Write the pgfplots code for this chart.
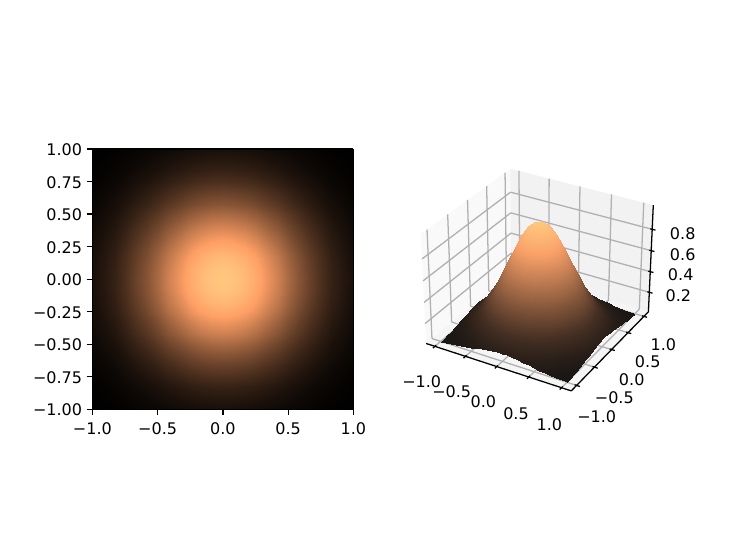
\documentclass[border=0pt]{standalone}
\usepackage{fontspec}
\setmainfont{DejaVu Sans}
\usepackage{pgfplots}
\usepackage{pgfplotstable}
\pgfplotsset{compat=1.18}
\definecolor{gridc}{rgb}{.69,.69,.69}
\definecolor{paneL}{rgb}{.975,.975,.975}
\definecolor{paneB}{rgb}{.95,.95,.95}
\definecolor{paneF}{rgb}{.9625,.9625,.9625}
\pgfplotsset{colormap={mplcopper}{rgb(0cm)=(0,0,0); rgb(4cm)=(1,.625,.398); rgb(5cm)=(1,.7812,.4975)}}
% copper with the light seams of the fine surface mesh mixed in
\pgfplotsset{colormap={meshcopper}{rgb(0cm)=(.10,.085,.075); rgb(1cm)=(.28,.19,.14); rgb(4cm)=(.98,.63,.41); rgb(5cm)=(1,.7812,.4975)}}
\pgfplotstableread{
x y z
-1 1 0.007
-0.92 1 0.010
-0.83 1 0.014
-0.75 1 0.020
-0.67 1 0.027
-0.58 1 0.035
-0.5 1 0.044
-0.42 1 0.053
-0.33 1 0.062
-0.25 1 0.070
-0.17 1 0.077
-0.08 1 0.081
0 1 0.082
0.08 1 0.081
0.17 1 0.077
0.25 1 0.070
0.33 1 0.062
0.42 1 0.053
0.5 1 0.044
0.58 1 0.035
0.67 1 0.027
0.75 1 0.020
0.83 1 0.014
0.92 1 0.010
1 1 0.007
-1 0.92 0.010
-0.92 0.92 0.015
-0.83 0.92 0.022
-0.75 0.92 0.030
-0.67 0.92 0.040
-0.58 0.92 0.052
-0.5 0.92 0.066
-0.42 0.92 0.079
-0.33 0.92 0.093
-0.25 0.92 0.105
-0.17 0.92 0.114
-0.08 0.92 0.120
0 0.92 0.122
0.08 0.92 0.120
0.17 0.92 0.114
0.25 0.92 0.105
0.33 0.92 0.093
0.42 0.92 0.079
0.5 0.92 0.066
0.58 0.92 0.052
0.67 0.92 0.040
0.75 0.92 0.030
0.83 0.92 0.022
0.92 0.92 0.015
1 0.92 0.010
-1 0.83 0.014
-0.92 0.83 0.022
-0.83 0.83 0.031
-0.75 0.83 0.043
-0.67 0.83 0.058
-0.58 0.83 0.075
-0.5 0.83 0.094
-0.42 0.83 0.114
-0.33 0.83 0.133
-0.25 0.83 0.151
-0.17 0.83 0.164
-0.08 0.83 0.173
0 0.83 0.176
0.08 0.83 0.173
0.17 0.83 0.164
0.25 0.83 0.151
0.33 0.83 0.133
0.42 0.83 0.114
0.5 0.83 0.094
0.58 0.83 0.075
0.67 0.83 0.058
0.75 0.83 0.043
0.83 0.83 0.031
0.92 0.83 0.022
1 0.83 0.014
-1 0.75 0.020
-0.92 0.75 0.030
-0.83 0.75 0.043
-0.75 0.75 0.060
-0.67 0.75 0.081
-0.58 0.75 0.105
-0.5 0.75 0.131
-0.42 0.75 0.159
-0.33 0.75 0.186
-0.25 0.75 0.210
-0.17 0.75 0.229
-0.08 0.75 0.241
0 0.75 0.245
0.08 0.75 0.241
0.17 0.75 0.229
0.25 0.75 0.210
0.33 0.75 0.186
0.42 0.75 0.159
0.5 0.75 0.131
0.58 0.75 0.105
0.67 0.75 0.081
0.75 0.75 0.060
0.83 0.75 0.043
0.92 0.75 0.030
1 0.75 0.020
-1 0.67 0.027
-0.92 0.67 0.040
-0.83 0.67 0.058
-0.75 0.67 0.081
-0.67 0.67 0.108
-0.58 0.67 0.141
-0.5 0.67 0.176
-0.42 0.67 0.213
-0.33 0.67 0.249
-0.25 0.67 0.282
-0.17 0.67 0.307
-0.08 0.67 0.324
0 0.67 0.329
0.08 0.67 0.324
0.17 0.67 0.307
0.25 0.67 0.282
0.33 0.67 0.249
0.42 0.67 0.213
0.5 0.67 0.176
0.58 0.67 0.141
0.67 0.67 0.108
0.75 0.67 0.081
0.83 0.67 0.058
0.92 0.67 0.040
1 0.67 0.027
-1 0.58 0.035
-0.92 0.58 0.052
-0.83 0.58 0.075
-0.75 0.58 0.105
-0.67 0.58 0.141
-0.58 0.58 0.182
-0.5 0.58 0.229
-0.42 0.58 0.277
-0.33 0.58 0.324
-0.25 0.58 0.365
-0.17 0.58 0.398
-0.08 0.58 0.420
0 0.58 0.427
0.08 0.58 0.420
0.17 0.58 0.398
0.25 0.58 0.365
0.33 0.58 0.324
0.42 0.58 0.277
0.5 0.58 0.229
0.58 0.58 0.182
0.67 0.58 0.141
0.75 0.58 0.105
0.83 0.58 0.075
0.92 0.58 0.052
1 0.58 0.035
-1 0.5 0.044
-0.92 0.5 0.066
-0.83 0.5 0.094
-0.75 0.5 0.131
-0.67 0.5 0.176
-0.58 0.5 0.229
-0.5 0.5 0.287
-0.42 0.5 0.347
-0.33 0.5 0.405
-0.25 0.5 0.458
-0.17 0.5 0.499
-0.08 0.5 0.526
0 0.5 0.535
0.08 0.5 0.526
0.17 0.5 0.499
0.25 0.5 0.458
0.33 0.5 0.405
0.42 0.5 0.347
0.5 0.5 0.287
0.58 0.5 0.229
0.67 0.5 0.176
0.75 0.5 0.131
0.83 0.5 0.094
0.92 0.5 0.066
1 0.5 0.044
-1 0.42 0.053
-0.92 0.42 0.079
-0.83 0.42 0.114
-0.75 0.42 0.159
-0.67 0.42 0.213
-0.58 0.42 0.277
-0.5 0.42 0.347
-0.42 0.42 0.420
-0.33 0.42 0.491
-0.25 0.42 0.554
-0.17 0.42 0.604
-0.08 0.42 0.637
0 0.42 0.648
0.08 0.42 0.637
0.17 0.42 0.604
0.25 0.42 0.554
0.33 0.42 0.491
0.42 0.42 0.420
0.5 0.42 0.347
0.58 0.42 0.277
0.67 0.42 0.213
0.75 0.42 0.159
0.83 0.42 0.114
0.92 0.42 0.079
1 0.42 0.053
-1 0.33 0.062
-0.92 0.33 0.093
-0.83 0.33 0.133
-0.75 0.33 0.186
-0.67 0.33 0.249
-0.58 0.33 0.324
-0.5 0.33 0.405
-0.42 0.33 0.491
-0.33 0.33 0.574
-0.25 0.33 0.648
-0.17 0.33 0.707
-0.08 0.33 0.744
0 0.33 0.757
0.08 0.33 0.744
0.17 0.33 0.707
0.25 0.33 0.648
0.33 0.33 0.574
0.42 0.33 0.491
0.5 0.33 0.405
0.58 0.33 0.324
0.67 0.33 0.249
0.75 0.33 0.186
0.83 0.33 0.133
0.92 0.33 0.093
1 0.33 0.062
-1 0.25 0.070
-0.92 0.25 0.105
-0.83 0.25 0.151
-0.75 0.25 0.210
-0.67 0.25 0.282
-0.58 0.25 0.365
-0.5 0.25 0.458
-0.42 0.25 0.554
-0.33 0.25 0.648
-0.25 0.25 0.732
-0.17 0.25 0.798
-0.08 0.25 0.841
0 0.25 0.855
0.08 0.25 0.841
0.17 0.25 0.798
0.25 0.25 0.732
0.33 0.25 0.648
0.42 0.25 0.554
0.5 0.25 0.458
0.58 0.25 0.365
0.67 0.25 0.282
0.75 0.25 0.210
0.83 0.25 0.151
0.92 0.25 0.105
1 0.25 0.070
-1 0.17 0.077
-0.92 0.17 0.114
-0.83 0.17 0.164
-0.75 0.17 0.229
-0.67 0.17 0.307
-0.58 0.17 0.398
-0.5 0.17 0.499
-0.42 0.17 0.604
-0.33 0.17 0.707
-0.25 0.17 0.798
-0.17 0.17 0.870
-0.08 0.17 0.917
0 0.17 0.933
0.08 0.17 0.917
0.17 0.17 0.870
0.25 0.17 0.798
0.33 0.17 0.707
0.42 0.17 0.604
0.5 0.17 0.499
0.58 0.17 0.398
0.67 0.17 0.307
0.75 0.17 0.229
0.83 0.17 0.164
0.92 0.17 0.114
1 0.17 0.077
-1 0.08 0.081
-0.92 0.08 0.120
-0.83 0.08 0.173
-0.75 0.08 0.241
-0.67 0.08 0.324
-0.58 0.08 0.420
-0.5 0.08 0.526
-0.42 0.08 0.637
-0.33 0.08 0.744
-0.25 0.08 0.841
-0.17 0.08 0.917
-0.08 0.08 0.966
0 0.08 0.983
0.08 0.08 0.966
0.17 0.08 0.917
0.25 0.08 0.841
0.33 0.08 0.744
0.42 0.08 0.637
0.5 0.08 0.526
0.58 0.08 0.420
0.67 0.08 0.324
0.75 0.08 0.241
0.83 0.08 0.173
0.92 0.08 0.120
1 0.08 0.081
-1 0 0.082
-0.92 0 0.122
-0.83 0 0.176
-0.75 0 0.245
-0.67 0 0.329
-0.58 0 0.427
-0.5 0 0.535
-0.42 0 0.648
-0.33 0 0.757
-0.25 0 0.855
-0.17 0 0.933
-0.08 0 0.983
0 0 1.000
0.08 0 0.983
0.17 0 0.933
0.25 0 0.855
0.33 0 0.757
0.42 0 0.648
0.5 0 0.535
0.58 0 0.427
0.67 0 0.329
0.75 0 0.245
0.83 0 0.176
0.92 0 0.122
1 0 0.082
-1 -0.08 0.081
-0.92 -0.08 0.120
-0.83 -0.08 0.173
-0.75 -0.08 0.241
-0.67 -0.08 0.324
-0.58 -0.08 0.420
-0.5 -0.08 0.526
-0.42 -0.08 0.637
-0.33 -0.08 0.744
-0.25 -0.08 0.841
-0.17 -0.08 0.917
-0.08 -0.08 0.966
0 -0.08 0.983
0.08 -0.08 0.966
0.17 -0.08 0.917
0.25 -0.08 0.841
0.33 -0.08 0.744
0.42 -0.08 0.637
0.5 -0.08 0.526
0.58 -0.08 0.420
0.67 -0.08 0.324
0.75 -0.08 0.241
0.83 -0.08 0.173
0.92 -0.08 0.120
1 -0.08 0.081
-1 -0.17 0.077
-0.92 -0.17 0.114
-0.83 -0.17 0.164
-0.75 -0.17 0.229
-0.67 -0.17 0.307
-0.58 -0.17 0.398
-0.5 -0.17 0.499
-0.42 -0.17 0.604
-0.33 -0.17 0.707
-0.25 -0.17 0.798
-0.17 -0.17 0.870
-0.08 -0.17 0.917
0 -0.17 0.933
0.08 -0.17 0.917
0.17 -0.17 0.870
0.25 -0.17 0.798
0.33 -0.17 0.707
0.42 -0.17 0.604
0.5 -0.17 0.499
0.58 -0.17 0.398
0.67 -0.17 0.307
0.75 -0.17 0.229
0.83 -0.17 0.164
0.92 -0.17 0.114
1 -0.17 0.077
-1 -0.25 0.070
-0.92 -0.25 0.105
-0.83 -0.25 0.151
-0.75 -0.25 0.210
-0.67 -0.25 0.282
-0.58 -0.25 0.365
-0.5 -0.25 0.458
-0.42 -0.25 0.554
-0.33 -0.25 0.648
-0.25 -0.25 0.732
-0.17 -0.25 0.798
-0.08 -0.25 0.841
0 -0.25 0.855
0.08 -0.25 0.841
0.17 -0.25 0.798
0.25 -0.25 0.732
0.33 -0.25 0.648
0.42 -0.25 0.554
0.5 -0.25 0.458
0.58 -0.25 0.365
0.67 -0.25 0.282
0.75 -0.25 0.210
0.83 -0.25 0.151
0.92 -0.25 0.105
1 -0.25 0.070
-1 -0.33 0.062
-0.92 -0.33 0.093
-0.83 -0.33 0.133
-0.75 -0.33 0.186
-0.67 -0.33 0.249
-0.58 -0.33 0.324
-0.5 -0.33 0.405
-0.42 -0.33 0.491
-0.33 -0.33 0.574
-0.25 -0.33 0.648
-0.17 -0.33 0.707
-0.08 -0.33 0.744
0 -0.33 0.757
0.08 -0.33 0.744
0.17 -0.33 0.707
0.25 -0.33 0.648
0.33 -0.33 0.574
0.42 -0.33 0.491
0.5 -0.33 0.405
0.58 -0.33 0.324
0.67 -0.33 0.249
0.75 -0.33 0.186
0.83 -0.33 0.133
0.92 -0.33 0.093
1 -0.33 0.062
-1 -0.42 0.053
-0.92 -0.42 0.079
-0.83 -0.42 0.114
-0.75 -0.42 0.159
-0.67 -0.42 0.213
-0.58 -0.42 0.277
-0.5 -0.42 0.347
-0.42 -0.42 0.420
-0.33 -0.42 0.491
-0.25 -0.42 0.554
-0.17 -0.42 0.604
-0.08 -0.42 0.637
0 -0.42 0.648
0.08 -0.42 0.637
0.17 -0.42 0.604
0.25 -0.42 0.554
0.33 -0.42 0.491
0.42 -0.42 0.420
0.5 -0.42 0.347
0.58 -0.42 0.277
0.67 -0.42 0.213
0.75 -0.42 0.159
0.83 -0.42 0.114
0.92 -0.42 0.079
1 -0.42 0.053
-1 -0.5 0.044
-0.92 -0.5 0.066
-0.83 -0.5 0.094
-0.75 -0.5 0.131
-0.67 -0.5 0.176
-0.58 -0.5 0.229
-0.5 -0.5 0.287
-0.42 -0.5 0.347
-0.33 -0.5 0.405
-0.25 -0.5 0.458
-0.17 -0.5 0.499
-0.08 -0.5 0.526
0 -0.5 0.535
0.08 -0.5 0.526
0.17 -0.5 0.499
0.25 -0.5 0.458
0.33 -0.5 0.405
0.42 -0.5 0.347
0.5 -0.5 0.287
0.58 -0.5 0.229
0.67 -0.5 0.176
0.75 -0.5 0.131
0.83 -0.5 0.094
0.92 -0.5 0.066
1 -0.5 0.044
-1 -0.58 0.035
-0.92 -0.58 0.052
-0.83 -0.58 0.075
-0.75 -0.58 0.105
-0.67 -0.58 0.141
-0.58 -0.58 0.182
-0.5 -0.58 0.229
-0.42 -0.58 0.277
-0.33 -0.58 0.324
-0.25 -0.58 0.365
-0.17 -0.58 0.398
-0.08 -0.58 0.420
0 -0.58 0.427
0.08 -0.58 0.420
0.17 -0.58 0.398
0.25 -0.58 0.365
0.33 -0.58 0.324
0.42 -0.58 0.277
0.5 -0.58 0.229
0.58 -0.58 0.182
0.67 -0.58 0.141
0.75 -0.58 0.105
0.83 -0.58 0.075
0.92 -0.58 0.052
1 -0.58 0.035
-1 -0.67 0.027
-0.92 -0.67 0.040
-0.83 -0.67 0.058
-0.75 -0.67 0.081
-0.67 -0.67 0.108
-0.58 -0.67 0.141
-0.5 -0.67 0.176
-0.42 -0.67 0.213
-0.33 -0.67 0.249
-0.25 -0.67 0.282
-0.17 -0.67 0.307
-0.08 -0.67 0.324
0 -0.67 0.329
0.08 -0.67 0.324
0.17 -0.67 0.307
0.25 -0.67 0.282
0.33 -0.67 0.249
0.42 -0.67 0.213
0.5 -0.67 0.176
0.58 -0.67 0.141
0.67 -0.67 0.108
0.75 -0.67 0.081
0.83 -0.67 0.058
0.92 -0.67 0.040
1 -0.67 0.027
-1 -0.75 0.020
-0.92 -0.75 0.030
-0.83 -0.75 0.043
-0.75 -0.75 0.060
-0.67 -0.75 0.081
-0.58 -0.75 0.105
-0.5 -0.75 0.131
-0.42 -0.75 0.159
-0.33 -0.75 0.186
-0.25 -0.75 0.210
-0.17 -0.75 0.229
-0.08 -0.75 0.241
0 -0.75 0.245
0.08 -0.75 0.241
0.17 -0.75 0.229
0.25 -0.75 0.210
0.33 -0.75 0.186
0.42 -0.75 0.159
0.5 -0.75 0.131
0.58 -0.75 0.105
0.67 -0.75 0.081
0.75 -0.75 0.060
0.83 -0.75 0.043
0.92 -0.75 0.030
1 -0.75 0.020
-1 -0.83 0.014
-0.92 -0.83 0.022
-0.83 -0.83 0.031
-0.75 -0.83 0.043
-0.67 -0.83 0.058
-0.58 -0.83 0.075
-0.5 -0.83 0.094
-0.42 -0.83 0.114
-0.33 -0.83 0.133
-0.25 -0.83 0.151
-0.17 -0.83 0.164
-0.08 -0.83 0.173
0 -0.83 0.176
0.08 -0.83 0.173
0.17 -0.83 0.164
0.25 -0.83 0.151
0.33 -0.83 0.133
0.42 -0.83 0.114
0.5 -0.83 0.094
0.58 -0.83 0.075
0.67 -0.83 0.058
0.75 -0.83 0.043
0.83 -0.83 0.031
0.92 -0.83 0.022
1 -0.83 0.014
-1 -0.92 0.010
-0.92 -0.92 0.015
-0.83 -0.92 0.022
-0.75 -0.92 0.030
-0.67 -0.92 0.040
-0.58 -0.92 0.052
-0.5 -0.92 0.066
-0.42 -0.92 0.079
-0.33 -0.92 0.093
-0.25 -0.92 0.105
-0.17 -0.92 0.114
-0.08 -0.92 0.120
0 -0.92 0.122
0.08 -0.92 0.120
0.17 -0.92 0.114
0.25 -0.92 0.105
0.33 -0.92 0.093
0.42 -0.92 0.079
0.5 -0.92 0.066
0.58 -0.92 0.052
0.67 -0.92 0.040
0.75 -0.92 0.030
0.83 -0.92 0.022
0.92 -0.92 0.015
1 -0.92 0.010
-1 -1 0.007
-0.92 -1 0.010
-0.83 -1 0.014
-0.75 -1 0.020
-0.67 -1 0.027
-0.58 -1 0.035
-0.5 -1 0.044
-0.42 -1 0.053
-0.33 -1 0.062
-0.25 -1 0.070
-0.17 -1 0.077
-0.08 -1 0.081
0 -1 0.082
0.08 -1 0.081
0.17 -1 0.077
0.25 -1 0.070
0.33 -1 0.062
0.42 -1 0.053
0.5 -1 0.044
0.58 -1 0.035
0.67 -1 0.027
0.75 -1 0.020
0.83 -1 0.014
0.92 -1 0.010
1 -1 0.007
}\surfdata
% projection of (x,y,z) to picture pixels, camera as in the reference
\newcommand\Dd{(10-0.2249*\thisrow{x}+0.3896*\thisrow{y}-0.44*(\thisrow{z}-0.5156))}
\newcommand\Px{539.3+1397*(0.4499*\thisrow{x}+0.2598*\thisrow{y})/\Dd}
\newcommand\Py{279.5+1397*(-0.1299*\thisrow{x}+0.2249*\thisrow{y}+0.7621*(\thisrow{z}-0.5156))/\Dd}
\newcommand\seg[7]{\addplot3[#1] table[x expr=\Px,y expr=\Py,z expr=0,row sep=\\] {x y z\\ #2 #3 #4\\ #5 #6 #7\\};}
\newcommand\pane[2]{\addplot3[fill=#1,draw=none] table[x expr=\Px,y expr=\Py,z expr=0,row sep=\\] {x y z\\ #2};}
\newcommand\lab[3]{\node[font=\fontsize{12}{14}\selectfont,inner sep=0pt] at (axis cs:#1,#2,0) {#3};}
\begin{document}
\begin{tikzpicture}
\path[use as bounding box] (0,0) rectangle (554.25pt,415.5pt);
% left panel
\begin{axis}[
  at={(69.3pt,108.5pt)}, anchor=south west,
  width=195.75pt, height=195.2pt, scale only axis,
  view={0}{90},
  xmin=-1, xmax=1, ymin=-1, ymax=1,
  xtick={-1,-0.5,0,0.5,1},
  xticklabels={−1.0,−0.5,0.0,0.5,1.0},
  ytick={-1,-0.75,-0.5,-0.25,0,0.25,0.5,0.75,1},
  yticklabels={−1.00,−0.75,−0.50,−0.25,0.00,0.25,0.50,0.75,1.00},
  ztick=\empty,
  tick align=outside, tick pos=left,
  major tick length=4.2pt,
  every tick/.style={black,line width=.96pt},
  axis line style={line width=.96pt},
  ticklabel style={font=\fontsize{12}{14}\selectfont},
  xticklabel style={yshift=-2pt},
  yticklabel style={yshift=-0.6pt},
  axis on top,
  colormap name=mplcopper,
  point meta min=0.007, point meta max=1,
]
\addplot3[surf,shader=interp,mesh/rows=25,point meta=\thisrow{z}] table {\surfdata};
\end{axis}
% right panel
\begin{axis}[
  at={(0pt,0pt)}, anchor=origin,
  x=0.75pt, y=0.75pt, z=0pt,
  view={0}{90},
  xmin=0, xmax=739, ymin=0, ymax=554, zmin=-1, zmax=1,
  hide axis, clip=false,
  colormap name=meshcopper,
  point meta min=0.007, point meta max=1,
  gl/.style={gridc,line width=.96pt},
  ax/.style={black,line width=.96pt},
]
\pane{paneL}{-1.1458 -1.1458 0.0083\\ -1.1458 1.1458 0.0083\\ -1.1458 1.1458 1.0229\\ -1.1458 -1.1458 1.0229\\}
\pane{paneB}{-1.1458 1.1458 0.0083\\ 1.1458 1.1458 0.0083\\ 1.1458 1.1458 1.0229\\ -1.1458 1.1458 1.0229\\}
\pane{paneF}{-1.1458 -1.1458 0.0083\\ 1.1458 -1.1458 0.0083\\ 1.1458 1.1458 0.0083\\ -1.1458 1.1458 0.0083\\}
% grid on the left wall
\seg{gl}{-1.1458}{-1}{0.0083}{-1.1458}{-1}{1.0229}
\seg{gl}{-1.1458}{-0.5}{0.0083}{-1.1458}{-0.5}{1.0229}
\seg{gl}{-1.1458}{0}{0.0083}{-1.1458}{0}{1.0229}
\seg{gl}{-1.1458}{0.5}{0.0083}{-1.1458}{0.5}{1.0229}
\seg{gl}{-1.1458}{1}{0.0083}{-1.1458}{1}{1.0229}
\seg{gl}{-1.1458}{-1.1458}{0.2}{-1.1458}{1.1458}{0.2}
\seg{gl}{-1.1458}{-1.1458}{0.4}{-1.1458}{1.1458}{0.4}
\seg{gl}{-1.1458}{-1.1458}{0.6}{-1.1458}{1.1458}{0.6}
\seg{gl}{-1.1458}{-1.1458}{0.8}{-1.1458}{1.1458}{0.8}
% grid on the back wall
\seg{gl}{-1}{1.1458}{0.0083}{-1}{1.1458}{1.0229}
\seg{gl}{-0.5}{1.1458}{0.0083}{-0.5}{1.1458}{1.0229}
\seg{gl}{0}{1.1458}{0.0083}{0}{1.1458}{1.0229}
\seg{gl}{0.5}{1.1458}{0.0083}{0.5}{1.1458}{1.0229}
\seg{gl}{1}{1.1458}{0.0083}{1}{1.1458}{1.0229}
\seg{gl}{-1.1458}{1.1458}{0.2}{1.1458}{1.1458}{0.2}
\seg{gl}{-1.1458}{1.1458}{0.4}{1.1458}{1.1458}{0.4}
\seg{gl}{-1.1458}{1.1458}{0.6}{1.1458}{1.1458}{0.6}
\seg{gl}{-1.1458}{1.1458}{0.8}{1.1458}{1.1458}{0.8}
% grid on the floor
\seg{gl}{-1}{-1.1458}{0.0083}{-1}{1.1458}{0.0083}
\seg{gl}{-0.5}{-1.1458}{0.0083}{-0.5}{1.1458}{0.0083}
\seg{gl}{0}{-1.1458}{0.0083}{0}{1.1458}{0.0083}
\seg{gl}{0.5}{-1.1458}{0.0083}{0.5}{1.1458}{0.0083}
\seg{gl}{1}{-1.1458}{0.0083}{1}{1.1458}{0.0083}
\seg{gl}{-1.1458}{-1}{0.0083}{1.1458}{-1}{0.0083}
\seg{gl}{-1.1458}{-0.5}{0.0083}{1.1458}{-0.5}{0.0083}
\seg{gl}{-1.1458}{0}{0.0083}{1.1458}{0}{0.0083}
\seg{gl}{-1.1458}{0.5}{0.0083}{1.1458}{0.5}{0.0083}
\seg{gl}{-1.1458}{1}{0.0083}{1.1458}{1}{0.0083}
% the surface
\addplot3[surf,shader=interp,mesh/rows=25,z buffer=none,point meta=\thisrow{z}]
  table[x expr=\Px,y expr=\Py,z expr=0] {\surfdata};
% spines
\seg{ax}{-1.1458}{-1.1458}{0.0083}{1.1458}{-1.1458}{0.0083}
\seg{ax}{1.1458}{-1.1458}{0.0083}{1.1458}{1.1458}{0.0083}
\seg{ax}{1.1458}{1.1458}{0.0083}{1.1458}{1.1458}{1.0229}
% ticks
\seg{ax}{-1}{-1.1158}{0.0083}{-1}{-1.1958}{0.0083}
\seg{ax}{-0.5}{-1.1158}{0.0083}{-0.5}{-1.1958}{0.0083}
\seg{ax}{0}{-1.1158}{0.0083}{0}{-1.1958}{0.0083}
\seg{ax}{0.5}{-1.1158}{0.0083}{0.5}{-1.1958}{0.0083}
\seg{ax}{1}{-1.1158}{0.0083}{1}{-1.1958}{0.0083}
\seg{ax}{1.1158}{-1}{0.0083}{1.1958}{-1}{0.0083}
\seg{ax}{1.1158}{-0.5}{0.0083}{1.1958}{-0.5}{0.0083}
\seg{ax}{1.1158}{0}{0.0083}{1.1958}{0}{0.0083}
\seg{ax}{1.1158}{0.5}{0.0083}{1.1958}{0.5}{0.0083}
\seg{ax}{1.1158}{1}{0.0083}{1.1958}{1}{0.0083}
\seg{ax}{1.1158}{1.1458}{0.2}{1.1958}{1.1458}{0.2}
\seg{ax}{1.1158}{1.1458}{0.4}{1.1958}{1.1458}{0.4}
\seg{ax}{1.1158}{1.1458}{0.6}{1.1958}{1.1458}{0.6}
\seg{ax}{1.1158}{1.1458}{0.8}{1.1958}{1.1458}{0.8}
% tick labels
\lab{421.7}{172.3}{−1.0}
\lab{451.7}{162.3}{−0.5}
\lab{483.3}{152.3}{0.0}
\lab{516}{140.7}{0.5}
\lab{549.3}{129}{1.0}
\lab{596.7}{137.3}{−1.0}
\lab{614.3}{156.7}{−0.5}
\lab{631.7}{174.7}{0.0}
\lab{647.7}{192.3}{0.5}
\lab{663.3}{209}{1.0}
\lab{682.7}{320}{0.8}
\lab{682.7}{299.7}{0.6}
\lab{680.7}{279}{0.4}
\lab{678.3}{258.3}{0.2}
\end{axis}
\end{tikzpicture}
\end{document}
